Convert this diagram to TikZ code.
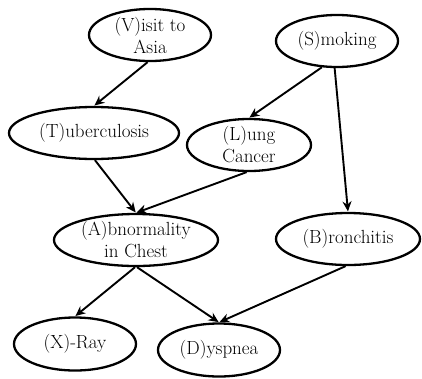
\documentclass[tikz,border=0pt]{standalone}
\usetikzlibrary{shapes.geometric,arrows.meta}
\begin{document}
\begin{tikzpicture}[x=1pt,y=-1pt,
  var/.style={draw=black, line width=2.3pt, ellipse, minimum width=2*#1, minimum height=52pt, inner sep=0pt,
    align=center, font=\fontsize{19}{22}\selectfont},
  var/.default=62pt,
  link/.style={-{Stealth[length=10pt,width=9pt]}, line width=1.9pt, shorten >=0.5pt}]
\useasboundingbox (0,0) rectangle (422,378);
\node[var=61pt] (V) at (150,35) {(V)isit to\\Asia};
\node[var=61pt] (S) at (337,41) {(S)moking};
\node[var=85pt] (T) at (94,133) {(T)uberculosis};
\node[var=62pt] (L) at (249,145) {(L)ung\\Cancer};
\node[var=82pt] (A) at (136,240) {(A)bnormality\\in Chest};
\node[var=72pt] (B) at (348,239) {(B)ronchitis};
\node[var=61pt, minimum height=53pt] (X) at (75,344) {(X)-Ray};
\node[var=61pt, minimum height=53pt] (D) at (219,350) {(D)yspnea};
\draw[link] (V.-95) -- (T.north);
\draw[link] (S.-120) -- (L.north);
\draw[link] (S.-95) -- (B.north);
\draw[link] (T.-88) -- (A.north);
\draw[link] (L.-95) -- (A.north);
\draw[link] (A.-92) -- (X.north);
\draw[link] (A.-88) -- (D.north);
\draw[link] (B.-95) -- (D.north);
\end{tikzpicture}
\end{document}
